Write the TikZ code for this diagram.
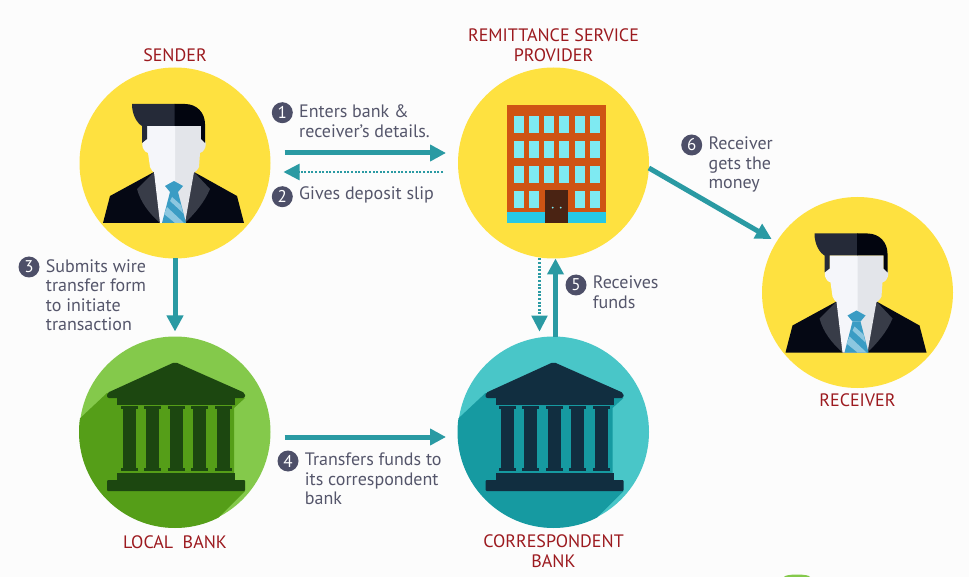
\documentclass[tikz,border=0pt]{standalone}
\usepackage{fontspec}
\setmainfont{PT Sans}
\usetikzlibrary{positioning,arrows.meta}
\definecolor{paper}{HTML}{FCFCFC}
\definecolor{sunny}{HTML}{FEE140}
\definecolor{flowteal}{HTML}{2A9AA3}
\definecolor{slate}{HTML}{55566B}
\definecolor{badgegrey}{HTML}{4D4F68}
\definecolor{wine}{HTML}{9C1A1F}
\definecolor{suit}{HTML}{050814}
\definecolor{lapel}{HTML}{383C48}
\definecolor{hairlight}{HTML}{252A38}
\definecolor{hairdark}{HTML}{02050F}
\definecolor{skinlight}{HTML}{F5F6FA}
\definecolor{skindark}{HTML}{E3E5EA}
\definecolor{tiedark}{HTML}{3A9CC4}
\definecolor{tielight}{HTML}{8CC7E0}
\definecolor{brick}{HTML}{CF5414}
\definecolor{pane}{HTML}{7EEAF2}
\definecolor{plinth}{HTML}{27C8E6}
\definecolor{doorbrown}{HTML}{4A2313}
\definecolor{greenlight}{HTML}{84C94B}
\definecolor{greendark}{HTML}{559E18}
\definecolor{greenink}{HTML}{1C4710}
\definecolor{aqualight}{HTML}{49C6C8}
\definecolor{aquadark}{HTML}{169AA1}
\definecolor{aquaink}{HTML}{112E40}
\tikzset{
  disc/.style = {circle, minimum size=191pt, inner sep=0pt, outer sep=0pt},
  flow/.style = {line width=5pt, color=flowteal, -{Triangle[length=16pt,width=16pt]}},
  back/.style = {line width=2.5pt, color=flowteal, dash pattern=on 2pt off 1.6pt, -{Triangle[length=16pt,width=16pt]}},
  badge/.style = {circle, fill=badgegrey, text=white, minimum size=21pt, inner sep=0pt, font=\fontsize{17}{17}\selectfont},
  note/.style = {text=slate, align=left, inner sep=0pt, font=\fontsize{18}{19.5}\selectfont},
  caption/.style = {text=wine, align=center, inner sep=0pt, font=\fontsize{18}{20}\selectfont},
  person/.pic = {
    \fill[suit] (-72,60) -- (-65,33) -- (-21,9) -- (19,9) -- (62,33) -- (69,60) -- cycle;
    \fill[lapel] (-21,9) -- (-38,26) .. controls (-34,40) and (-26,50) .. (-15,60) -- (10,60) .. controls (20,50) and (29,40) .. (35,26) -- (19,9) -- cycle;
    \fill[skindark] (19,9) -- (10,60) -- (-0.5,60) -- (-0.5,9) -- cycle;
    \fill[skinlight] (-21,9) -- (-15,60) -- (0,60) -- (0,9) -- cycle;
    \fill[skindark] (26,-37) -- (26,-24) .. controls (33,-25) and (32,-12) .. (25,-10) -- (24,4) .. controls (22,9) and (14,14) .. (0,17) -- (-0.5,17) -- (-0.5,-37) -- cycle;
    \fill[skinlight] (-28,-37) -- (-28,-24) .. controls (-35,-25) and (-34,-12) .. (-27,-10) -- (-25,4) .. controls (-24,9) and (-16,14) .. (0,17) -- (0,-37) -- cycle;
    \fill[hairlight] (-43,-59) -- (0,-59) -- (0,-37) -- (-28,-37) -- (-28,-24) -- (-33,-20) -- (-33,-37) .. controls (-38,-40) and (-43,-48) .. (-43,-59) -- cycle;
    \fill[hairdark] (-0.3,-59) -- (10,-59) .. controls (22,-59) and (30,-50) .. (30,-39) -- (30,-20) -- (26,-24) -- (26,-37) -- (-0.3,-37) -- cycle;
    \fill[tiedark] (-10,23) -- (-1,18) -- (8,23) -- (3,29) -- (-5,29) -- cycle;
    \fill[tiedark] (-5,29) -- (3,29) -- (11,60) -- (-13,60) -- cycle;
    \fill[tielight] (-3,34) -- (6,42) -- (8,50) -- (-5,38) -- cycle;
    \fill[tielight] (-8,44) -- (9,60) -- (0,60) -- (-11,51) -- cycle;
  }
}
% bank: position, dark, ink
\newcommand{\bankfig}[3]{
  \begin{scope}[shift={(#1)}]
    \begin{scope}
      \clip (0,0) circle (96);
      \fill[#2] (-100,-9) -- (-68,-39) -- (70,-34) -- (59,-24) -- (59,48) -- (70,59) -- (25,104) -- (-100,104) -- cycle;
    \end{scope}
    \fill[#3, rounded corners=2pt] (0,-70) -- (70,-39) -- (70,-34) -- (-68,-34) -- (-68,-39) -- cycle;
    \fill[#3] (-58,-35) rectangle (60,-27);
    \foreach \cx in {-46,-23,1,24,48} {
      \fill[#3] (\cx-8.5,-26) rectangle (\cx+8.5,-23);
      \fill[#3] (\cx-6.5,-23) rectangle (\cx+6.5,36);
      \fill[#3] (\cx-8.5,36) rectangle (\cx+8.5,39);
    }
    \fill[#3] (-58,41) rectangle (60,49);
    \fill[#3, rounded corners=1pt] (-68,48) rectangle (70,59);
  \end{scope}
}
\begin{document}
\begin{tikzpicture}[x=1pt, y=-1pt]
\useasboundingbox (0,0) rectangle (969,577);
\fill[paper] (0,0) rectangle (969,577);
\fill[greenlight] (797,577) ellipse (13 and 2.5);
% circles
\node[disc, fill=sunny] (sender) at (175,163) {};
\node[disc, fill=sunny] (provider) at (553.5,163) {};
\node[disc, fill=sunny] (receiver) at (857.5,292.5) {};
\node[disc, fill=greenlight] (local) at (175,432) {};
\node[disc, fill=aqualight] (corr) at (553.5,432) {};
% figures
\pic at (sender) {person};
\pic at (receiver) {person};
\bankfig{175,432}{greendark}{greenink}
\bankfig{553.5,432}{aquadark}{aquaink}
% building
\fill[brick] (507,105) rectangle (606.3,223);
\fill[plinth] (507,212) rectangle (606.3,223);
\foreach \wx in {514,529.3,544.3,559.3,574.7,589.7}
  \foreach \wy in {116,141,166}
    \fill[pane] (\wx,\wy) rectangle (\wx+10,\wy+17);
\foreach \wx in {514,529.3,574.7,589.7}
  \fill[pane] (\wx,191) rectangle (\wx+10,208);
\fill[doorbrown] (545,190.3) rectangle (568.3,223);
\fill[pane] (552.7,207.7) circle (1);
\fill[pane] (560.7,207.7) circle (1);
% captions
\node[caption, above=6pt of sender] (sendertxt) {SENDER};
\node[caption, above=6pt of provider] (providertxt) {REMITTANCE SERVICE\\PROVIDER};
\node[caption, below=5pt of receiver] (receivertxt) {RECEIVER};
\node[caption, below=8pt of local] (localtxt) {LOCAL\ \ BANK};
\node[caption, below=7pt of corr] (corrtxt) {CORRESPONDENT\\BANK};
% arrows
\draw[flow, shorten <=14pt, shorten >=12pt] ([yshift=10pt]sender.east) -- ([yshift=10pt]provider.west);
\draw[back, shorten <=15pt, shorten >=13pt] ([yshift=-9pt]provider.west) -- ([yshift=-9pt]sender.east);
\draw[flow, shorten >=5pt] (sender.south) -- (local.north);
\draw[flow, shorten <=14pt, shorten >=12pt] ([yshift=-5pt]local.east) -- ([yshift=-5pt]corr.west);
\draw[flow] ([xshift=2pt]corr.north) -- ([xshift=2pt]provider.south);
\draw[back, shorten >=5pt] ([xshift=-14pt]provider.south) -- ([xshift=-14pt]corr.north);
\draw[flow, shorten >=5.6pt] (provider.-3.6) -- (receiver.148);
% steps
\node[badge] (n1) at (282.3,112.7) {1};
\node[badge] (n2) at (282.3,196.7) {2};
\node[badge] (n3) at (29,267) {3};
\node[badge] (n4) at (288,461) {4};
\node[badge] (n5) at (576,285) {5};
\node[badge] (n6) at (691.7,145) {6};
\node[note, right=6pt of n1.east, anchor=north west, yshift=8pt] (t1) {Enters bank \&\\receiver’s details.};
\node[note, right=6pt of n2.east, anchor=north west, yshift=10pt] (t2) {Gives deposit slip};
\node[note, right=6pt of n3.east, anchor=north west, yshift=8pt] (t3) {Submits wire\\transfer form\\to initiate\\transaction};
\node[note, right=6pt of n4.east, anchor=north west, yshift=8pt] (t4) {Transfers funds to\\its correspondent\\bank};
\node[note, right=6pt of n5.east, anchor=north west, yshift=9pt] (t5) {Receives\\funds};
\node[note, right=6pt of n6.east, anchor=north west, yshift=8pt] (t6) {Receiver\\gets the\\money};
\end{tikzpicture}
\end{document}
